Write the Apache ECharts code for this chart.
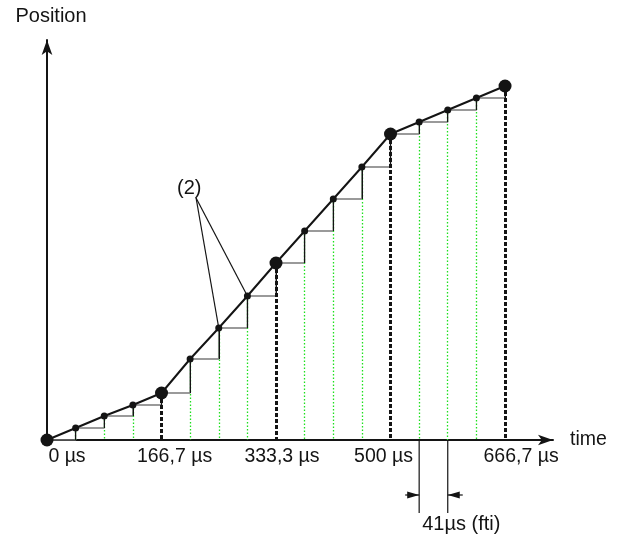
<!DOCTYPE html>
<html>
<head>
<meta charset="utf-8">
<script src="https://cdn.jsdelivr.net/npm/echarts@6/dist/echarts.min.js"></script>
<style>
  html, body { margin: 0; padding: 0; background: #fff; }
  #chart { width: 621px; height: 535px; }
</style>
</head>
<body>
<div id="chart"></div>
<script>
// sample instants, one fti (~41,7 µs) apart
const times = [0, 41.7, 83.3, 125, 166.7, 208.3, 250, 291.7, 333.3, 375, 416.7, 458.3, 500, 541.7, 583.3, 625, 666.7]
// position (arbitrary units)
const positions = [0, 12, 24, 35, 47, 81, 112, 144, 177, 209, 241, 273, 306, 318, 330, 342, 354]
// coarse set points (big dots)
const keyPoints = [0, 4, 8, 12, 16]
const tickValues = [0, 166.7, 333.3, 500, 666.7]
const tickLabels = ['0 µs', '166,7 µs', '333,3 µs', '500 µs', '666,7 µs']
// annotation "(2)": apex of the pointer lines and the points it points at
const noteLabel = '(2)'
const noteApex = [217, 242]
const noteAt = [207, 252]
const noteTargets = [6, 7]
// fti dimension drawn under the axis between two samples
const ftiPair = [13, 14]
const ftiLabel = '41µs (fti)'

const ink = '#141414'
const pts = times.map((t, i) => [t, positions[i]])

// drop lines from every sample to the time axis
const dropLines = []
for (let i = 1; i < pts.length; i++) {
  const big = keyPoints.includes(i)
  dropLines.push([
    { coord: pts[i], lineStyle: big
        ? { color: ink, width: 3, type: [4, 2] }
        : { color: '#1ee01e', width: 1.3, type: [1.5, 2] } },
    { coord: [pts[i][0], 0] },
  ])
}
// vertical risers of the staircase
const risers = []
for (let i = 0; i < pts.length - 1; i++) {
  risers.push([
    { coord: [pts[i + 1][0], pts[i][1]], lineStyle: { color: ink, width: 1, type: 'solid' } },
    { coord: pts[i + 1] },
  ])
}

const noteLines = noteTargets.map((k) => [{ coord: noteApex }, { coord: pts[k] }])

const labelShift = {
  '0 µs': [0, 0, 0, 40],
  '166,7 µs': [0, 0, 0, 26],
  '333,3 µs': [0, 0, 0, 12],
  '500 µs': [0, 14, 0, 0],
  '666,7 µs': [0, 0, 0, 32],
}
const rich = {}
tickLabels.forEach((t, i) => {
  rich['l' + i] = { fontSize: 19.5, color: ink, fontFamily: 'Liberation Sans', padding: labelShift[t] }
})

const chart = echarts.init(document.getElementById('chart'))
chart.setOption({
  animation: false,
  backgroundColor: '#fff',
  textStyle: { fontFamily: 'Liberation Sans' },
  grid: { left: 47, right: 68, top: 40, bottom: 95 },
  xAxis: {
    type: 'value',
    min: 0,
    max: 736.5,
    name: 'time',
    nameLocation: 'end',
    nameGap: 17,
    nameTextStyle: { fontSize: 19.5, color: ink, padding: [0, 0, 6, 0] },
    axisLine: { lineStyle: { color: ink, width: 2 }, symbol: ['none', 'arrow'], symbolSize: [8, 15] },
    axisTick: { show: false },
    splitLine: { show: false },
    axisLabel: {
      customValues: tickValues,
      margin: 7,
      formatter: (v) => {
        const i = tickValues.indexOf(v)
        return i < 0 ? '' : '{l' + i + '|' + tickLabels[i] + '}'
      },
      rich: rich,
    },
  },
  yAxis: {
    type: 'value',
    min: 0,
    max: 400,
    name: 'Position',
    nameLocation: 'end',
    nameGap: 14,
    nameTextStyle: { fontSize: 20, color: ink, align: 'center', padding: [0, 0, 0, 8] },
    axisLine: { lineStyle: { color: ink, width: 2 }, symbol: ['none', 'arrow'], symbolSize: [8, 15] },
    axisTick: { show: false },
    axisLabel: { show: false },
    splitLine: { show: false },
  },
  series: [
    {
      // staircase: the position held during each fti
      type: 'line',
      step: 'end',
      data: pts,
      symbol: 'none',
      lineStyle: { color: '#7a7a7a', width: 1.6 },
      z: 2,
      silent: true,
      markLine: {
        silent: true,
        symbol: ['none', 'none'],
        label: { show: false },
        emphasis: { disabled: true },
        data: dropLines.concat(risers),
      },
    },
    {
      type: 'line',
      data: pts,
      symbol: 'circle',
      symbolSize: (v, p) => (keyPoints.includes(p.dataIndex) ? 13 : 7),
      lineStyle: { color: ink, width: 2 },
      itemStyle: { color: ink },
      z: 5,
      silent: true,
    },
    {
      // "(2)" pointer
      type: 'line',
      data: [],
      silent: true,
      z: 4,
      markLine: {
        silent: true,
        symbol: ['none', 'none'],
        label: { show: false },
        emphasis: { disabled: true },
        lineStyle: { color: ink, width: 1.2, type: 'solid' },
        data: noteLines,
      },
      markPoint: {
        silent: true,
        symbol: 'circle',
        symbolSize: 0,
        data: [
          { coord: noteAt, label: { show: true, formatter: noteLabel, fontSize: 20, color: ink } },
        ],
      },
    },
  ],
})

// fti dimension below the axis, placed from the two sample times
const pa = chart.convertToPixel({ gridIndex: 0 }, [times[ftiPair[0]], 0])
const pb = chart.convertToPixel({ gridIndex: 0 }, [times[ftiPair[1]], 0])
const y0 = pa[1]
const ay = y0 + 55
const dim = { stroke: ink, lineWidth: 1.2 }
chart.setOption({
  graphic: [
    { type: 'line', shape: { x1: pa[0], y1: y0, x2: pa[0], y2: y0 + 73 }, style: dim, silent: true },
    { type: 'line', shape: { x1: pb[0], y1: y0, x2: pb[0], y2: y0 + 73 }, style: dim, silent: true },
    { type: 'line', shape: { x1: pa[0] - 14, y1: ay, x2: pa[0], y2: ay }, style: dim, silent: true },
    { type: 'line', shape: { x1: pb[0] + 15, y1: ay, x2: pb[0], y2: ay }, style: dim, silent: true },
    { type: 'polygon', shape: { points: [[pa[0], ay], [pa[0] - 12, ay - 3.5], [pa[0] - 12, ay + 3.5]] }, style: { fill: ink }, silent: true },
    { type: 'polygon', shape: { points: [[pb[0], ay], [pb[0] + 12, ay - 3.5], [pb[0] + 12, ay + 3.5]] }, style: { fill: ink }, silent: true },
    {
      type: 'text', x: pa[0] + 3, y: y0 + 84,
      style: { text: ftiLabel, fontSize: 20, fill: ink, fontFamily: 'Liberation Sans', verticalAlign: 'middle' },
      silent: true,
    },
  ],
})
</script>
</body>
</html>
